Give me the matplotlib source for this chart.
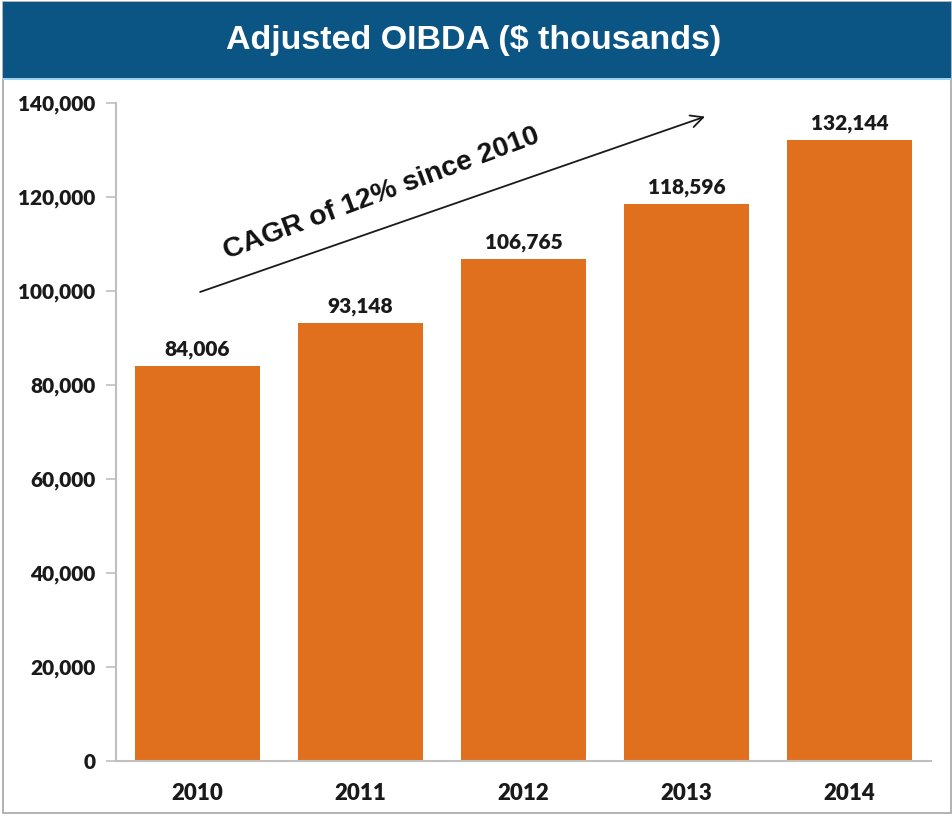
import matplotlib.pyplot as plt
from matplotlib import font_manager
from matplotlib.patches import Rectangle

# Data
years = ['2010', '2011', '2012', '2013', '2014']
oibda = [84006, 93148, 106765, 118596, 132144]
y_ticks = [0, 20000, 40000, 60000, 80000, 100000, 120000, 140000]

bar_color = '#e0701e'
banner_color = '#0b5585'
axis_gray = '#bfbfbf'

names = {f.name for f in font_manager.fontManager.ttflist}
narrow = 'Liberation Sans Narrow' if 'Liberation Sans Narrow' in names else 'Liberation Sans'
title_size = 28 if narrow == 'Liberation Sans Narrow' else 24.5
num_font = 'Lato'

fig = plt.figure(figsize=(9.53, 8.18), dpi=100)

# outer frame
fig.patches.append(Rectangle((3 / 953, 5 / 818), 948 / 953, 811 / 818,
                             transform=fig.transFigure, fill=False,
                             edgecolor='#a6a6a6', lw=1.2))
# title banner
fig.patches.append(Rectangle((3 / 953, 740 / 818), 948 / 953, 76 / 818,
                             transform=fig.transFigure, facecolor=banner_color,
                             edgecolor='none'))
fig.patches.append(Rectangle((3 / 953, 738 / 818), 948 / 953, 2 / 818,
                             transform=fig.transFigure, facecolor='#9dd3ee',
                             edgecolor='none'))
fig.text(0.497, 778 / 818, 'Adjusted OIBDA ($ thousands)', color='white',
         fontsize=title_size, fontweight='bold', family=narrow,
         ha='center', va='center')

ax = fig.add_axes([116 / 953, 57 / 818, 815 / 953, 658 / 818])
x = range(len(years))
bars = ax.bar(x, oibda, width=0.77, color=bar_color, zorder=2)

ax.set_xlim(-0.5, len(years) - 0.5)
ax.set_ylim(0, 140000)
ax.set_yticks(y_ticks)
ax.set_yticklabels([f'{v:,}' for v in y_ticks])
ax.set_xticks(list(x))
ax.set_xticklabels(years)

for s in ['top', 'right']:
    ax.spines[s].set_visible(False)
for s in ['left', 'bottom']:
    ax.spines[s].set_color(axis_gray)
    ax.spines[s].set_linewidth(1.5)
ax.tick_params(axis='y', length=7, color=axis_gray, width=1.2, pad=8)
ax.tick_params(axis='x', length=0, pad=16)
for lab in ax.get_yticklabels():
    lab.set_family(num_font)
    lab.set_fontweight('heavy')
    lab.set_fontsize(15)
    lab.set_color('#1a1a1a')
for lab in ax.get_xticklabels():
    lab.set_family(num_font)
    lab.set_fontweight('heavy')
    lab.set_fontsize(16)
    lab.set_color('#1a1a1a')

for b, v in zip(bars, oibda):
    ax.text(b.get_x() + b.get_width() / 2, v + 1500, f'{v:,}',
            ha='center', va='bottom', family=num_font, fontweight='heavy',
            fontsize=15, color='#1a1a1a')

# growth arrow and note
ax.annotate('', xy=(3.13, 137300), xytext=(0.0, 99600),
            arrowprops=dict(arrowstyle='->', color='#1a1a1a', lw=1.3,
                            mutation_scale=22))
ax.text(1.13, 120600, 'CAGR of 12% since 2010', rotation=20.5,
        rotation_mode='anchor', ha='center', va='center',
        family='Liberation Sans', fontweight='bold', fontsize=20.5,
        color='#111111')

fig.savefig('out.png', dpi=100)
